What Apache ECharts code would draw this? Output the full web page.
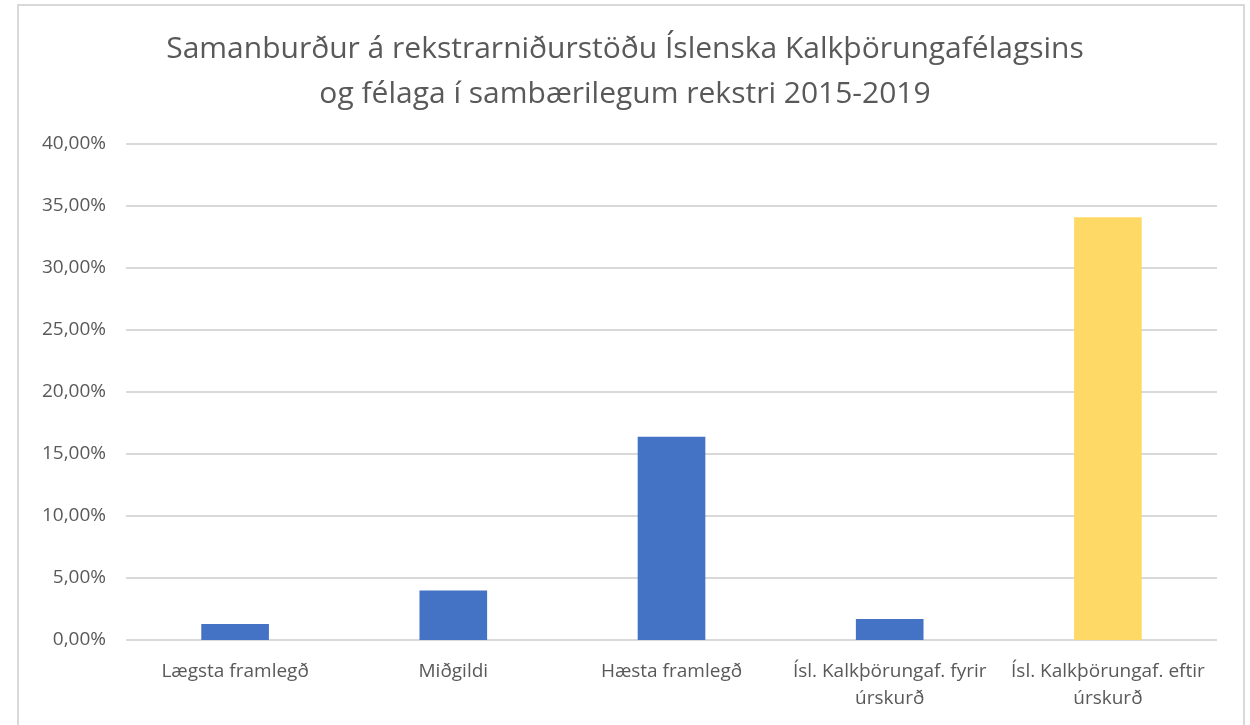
<!DOCTYPE html>
<html>
<head>
<meta charset="utf-8">
<script src="https://cdn.jsdelivr.net/npm/echarts@6/dist/echarts.min.js"></script>
<style>
  html, body { margin: 0; padding: 0; background: #fff; }
  #chart { width: 1250px; height: 725px; }
</style>
</head>
<body>
<div id="chart"></div>
<script>
// data
var categories = [
    'Lægsta framlegð',
    'Miðgildi',
    'Hæsta framlegð',
    'Ísl. Kalkþörungaf. fyrir\núrskurð',
    'Ísl. Kalkþörungaf. eftir\núrskurð'
];
var values = [1.3, 4.0, 16.4, 1.7, 34.1];
var barColors = ['#4472c4', '#4472c4', '#4472c4', '#4472c4', '#ffd966'];

var myChart = echarts.init(document.getElementById('chart'));

var option = {
    backgroundColor: '#fff',
    textStyle: { fontFamily: 'Open Sans' },
    title: {
        text: 'Samanburður á rekstrarniðurstöðu Íslenska Kalkþörungafélagsins\nog félaga í sambærilegum rekstri 2015-2019',
        left: 'center',
        top: 22,
        textStyle: {
            color: '#595959',
            fontSize: 30,
            fontWeight: 'normal',
            lineHeight: 45,
            fontFamily: 'Open Sans'
        }
    },
    graphic: [{
        type: 'rect',
        shape: { x: 18, y: 5, width: 1226, height: 740 },
        style: { fill: 'none', stroke: '#d9d9d9', lineWidth: 2 },
        silent: true
    }],
    grid: {
        left: 126,
        right: 33,
        top: 144,
        bottom: 85,
        containLabel: false
    },
    xAxis: {
        type: 'category',
        data: categories,
        axisLine: { show: false },
        axisTick: { show: false },
        axisLabel: {
            color: '#595959',
            fontSize: 19,
            margin: 18,
            lineHeight: 27,
            interval: 0
        }
    },
    yAxis: {
        type: 'value',
        min: 0,
        max: 40,
        interval: 5,
        axisLine: { show: false },
        axisTick: { show: false },
        splitLine: { lineStyle: { color: '#d9d9d9', width: 2 } },
        axisLabel: {
            color: '#595959',
            fontSize: 19,
            margin: 20,
            formatter: function (v) {
                return v.toFixed(2).replace('.', ',') + '%';
            }
        }
    },
    series: [{
        type: 'bar',
        barWidth: '31%',
        data: values.map(function (v, i) {
            return { value: v, itemStyle: { color: barColors[i] } };
        })
    }]
};

myChart.setOption(option);
</script>
</body>
</html>
